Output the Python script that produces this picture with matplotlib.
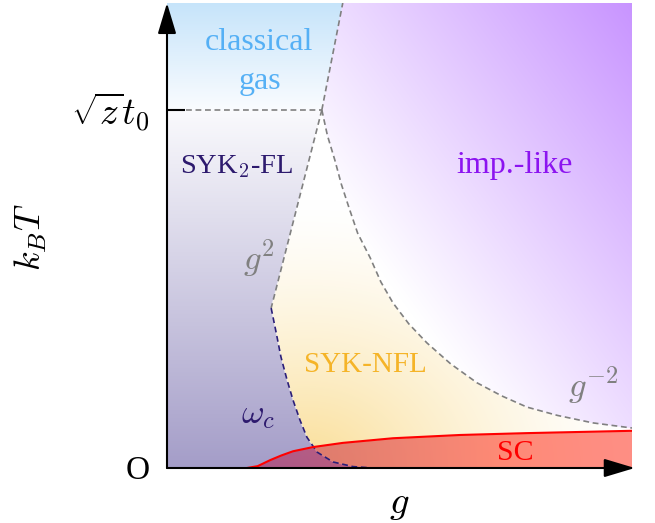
import numpy as np
import matplotlib
matplotlib.use('Agg')
import matplotlib.pyplot as plt
from matplotlib.path import Path
from matplotlib.patches import ArrowStyle

plt.rcParams['font.family'] = ['Liberation Serif', 'DejaVu Serif']
plt.rcParams['mathtext.fontset'] = 'cm'

# ---- phase boundaries (g, k_B T) (axes span 0..1) ----
T_cross = 0.770          # sqrt(z) t0 level
g_cross = 0.333          # junction of the boundaries
top_g = [0.333, 0.378]   # classical gas / imp.-like boundary
top_T = [0.770, 1.000]
g2_g = [0.333, 0.224]    # g^2 line
g2_T = [0.770, 0.344]
wc_g = [0.224, 0.235, 0.245, 0.258, 0.271, 0.286, 0.301, 0.323, 0.357, 0.400, 0.443]
wc_T = [0.344, 0.290, 0.239, 0.190, 0.146, 0.103, 0.066, 0.034, 0.013, 0.003, 0.000]
inv_g = [0.333, 0.345, 0.361, 0.375, 0.391, 0.410, 0.437, 0.460, 0.486, 0.520,
         0.559, 0.610, 0.667, 0.720, 0.774, 0.840, 0.916, 1.000]
inv_T = [0.770, 0.715, 0.662, 0.610, 0.561, 0.505, 0.452, 0.400, 0.355, 0.310,
         0.269, 0.224, 0.183, 0.155, 0.131, 0.113, 0.097, 0.086]
sc_g = [0.172, 0.195, 0.222, 0.246, 0.271, 0.314, 0.378, 0.486, 0.630, 0.774, 1.000]
sc_T = [0.000, 0.004, 0.017, 0.027, 0.036, 0.045, 0.054, 0.064, 0.071, 0.075, 0.080]

labels = {
    'classical': (0.198, 0.899), 'gas': (0.200, 0.815),
    'SYK$_2$-FL': (0.150, 0.634), 'imp.-like': (0.747, 0.634),
    'SYK-NFL': (0.426, 0.206), 'SC': (0.750, 0.017),
}

# ---- figure ----
fig = plt.figure(figsize=(6.55, 5.23), dpi=100)
ax = fig.add_axes([167/655, 55/523, 465/655, 465/523])
ax.set_xlim(0, 1)
ax.set_ylim(0, 1)
ax.axis('off')

# ---- region polygons ----
P_cls = [(0, T_cross), (g_cross, T_cross), (top_g[1], top_T[1]), (0, 1)]
P_imp = [(top_g[1], top_T[1])] + list(zip(inv_g, inv_T)) + [(1, 1)]
P_syk2 = [(0, 0), (0, T_cross), (g_cross, T_cross)] + list(zip(wc_g, wc_T))
P_nfl = list(zip(inv_g, inv_T)) + [(1, 0)] + list(zip(wc_g[::-1], wc_T[::-1]))
P_sc = list(zip(sc_g, sc_T)) + [(1, 0)]

N = 900
gg = (np.arange(N) + 0.5) / N
G, T = np.meshgrid(gg, gg)
pts = np.column_stack([G.ravel(), T.ravel()])

def mask(poly):
    return Path(poly).contains_points(pts, radius=1e-3).reshape(N, N)

def lerp(c0, c1, s):
    c0 = np.array(c0, float) / 255
    c1 = np.array(c1, float) / 255
    return c0 + (c1 - c0) * s[..., None]

img = np.ones((N, N, 3))
# classical gas: vertical blue gradient
s = np.clip((T - T_cross) / (1 - T_cross), 0, 1)
m = mask(P_cls); img[m] = lerp((250, 252, 255), (198, 228, 250), s)[m]
# SYK2-FL: vertical lavender gradient
s = np.clip((T_cross - T) / T_cross, 0, 1)
m = mask(P_syk2); img[m] = lerp((250, 250, 253), (164, 157, 200), s)[m]
# SYK-NFL: yellow glow from bottom-left
d = np.sqrt((G - 0.30) ** 2 + (T / 0.8) ** 2)
s = np.clip(1 - d / 0.72, 0, 1) ** 1.4
m = mask(P_nfl); img[m] = lerp((255, 255, 255), (250, 222, 150), s)[m]
# imp.-like: purple toward top-right
s = np.clip(1.05 * G + 0.755 * T - 0.805, 0, 1)
m = mask(P_imp); img[m] = lerp((255, 255, 255), (200, 148, 255), s)[m]
# SC overlay
s = np.clip((G - 0.17) / 0.55, 0, 1)
m = mask(P_sc)
sc_col = lerp((171, 22, 80), (255, 30, 10), s)
img[m] = (0.5 * sc_col + 0.5 * img)[m]

ax.imshow(img, origin='lower', extent=(0, 1, 0, 1), interpolation='bilinear',
          aspect='auto', zorder=0)

# ---- boundary lines ----
dash = dict(color='#808080', lw=1.2, ls=(0, (3.5, 2.2)), zorder=3)
ax.plot([0, g_cross], [T_cross, T_cross], **dash)
ax.plot(top_g, top_T, **dash)
ax.plot(g2_g, g2_T, **dash)
ax.plot(inv_g, inv_T, **dash)
ax.plot(wc_g, wc_T, color='#2a1e78', lw=1.2, ls=(0, (3.5, 2.2)), zorder=3)
ax.plot(sc_g, sc_T, color='#ff0000', lw=1.5, zorder=4)
ax.plot([0, 0.039], [T_cross, T_cross], color='black', lw=1.5, zorder=5,
        solid_capstyle='butt')

# ---- axes arrows ----
astyle = ArrowStyle('-|>', head_length=1.0, head_width=0.3)
ax.annotate('', xy=(1.006, 0), xytext=(0, 0), annotation_clip=False,
            arrowprops=dict(arrowstyle=astyle, mutation_scale=19, lw=1.5,
                            color='black', shrinkA=0, shrinkB=0), zorder=6)
ax.annotate('', xy=(0, 1.0), xytext=(0, 0), annotation_clip=False,
            arrowprops=dict(arrowstyle=astyle, mutation_scale=19, lw=1.5,
                            color='black', shrinkA=0, shrinkB=0), zorder=6)

# ---- region labels ----
colors = {'classical': '#55b0f5', 'gas': '#55b0f5', 'SYK$_2$-FL': '#2d1a6e',
          'imp.-like': '#8c14f0', 'SYK-NFL': '#f5b428', 'SC': '#ff0000'}
sizes = {'classical': 23, 'gas': 23, 'SYK$_2$-FL': 20.5, 'imp.-like': 23,
         'SYK-NFL': 21, 'SC': 21.5}
for k, (x, y) in labels.items():
    ax.text(x, y, k, color=colors[k], fontsize=sizes[k], ha='center',
            va='baseline', zorder=7)

ax.text(0.198, 0.452, '$g^2$', color='#808080', fontsize=25, ha='center', va='center', zorder=7)
ax.text(0.916, 0.178, '$g^{-2}$', color='#808080', fontsize=25, ha='center', va='center', zorder=7)
ax.text(0.196, 0.114, r'$\omega_c$', color='#2d1a6e', fontsize=25, ha='center', va='center', zorder=7)

# ---- axis labels ----
ax.text(-0.037, 0.766, r'$\sqrt{z}t_0$', fontsize=27, ha='right', va='center', clip_on=False)
ax.text(-0.063, -0.006, 'O', fontsize=24, ha='center', va='center', clip_on=False)
ax.text(-0.292, 0.497, r'$k_BT$', fontsize=26, rotation=90, ha='center', va='center', clip_on=False)
ax.text(0.499, -0.076, r'$g$', fontsize=28, ha='center', va='center', clip_on=False)

fig.savefig('out.png', dpi=100, facecolor='white')
